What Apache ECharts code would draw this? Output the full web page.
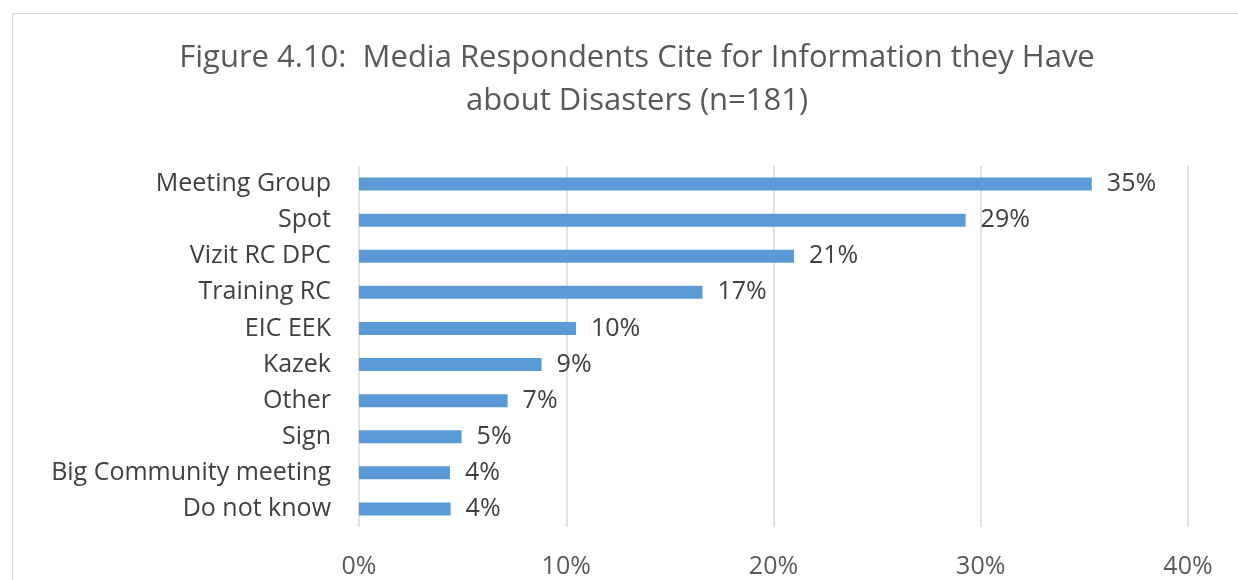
<!DOCTYPE html>
<html>
<head>
<meta charset="utf-8">
<script src="https://cdn.jsdelivr.net/npm/echarts@6/dist/echarts.min.js"></script>
<style>
  html, body { margin: 0; padding: 0; background: #ffffff; }
  #chart { width: 1238px; height: 580px; }
</style>
</head>
<body>
<div id="chart"></div>
<script>
// Sources cited for disaster information, share of media respondents (%)
const categories = [
  'Meeting Group', 'Spot', 'Vizit RC DPC', 'Training RC', 'EIC EEK',
  'Kazek', 'Other', 'Sign', 'Big Community meeting', 'Do not know'
];
const shares = [35.36, 29.27, 20.99, 16.57, 10.47, 8.81, 7.17, 4.95, 4.39, 4.42];
const axisTicks = [0, 10, 20, 30, 40];

const FONT = '"Open Sans", "Noto Sans", sans-serif';

const chart = echarts.init(document.getElementById('chart'), null, { renderer: 'canvas' });

chart.setOption({
  backgroundColor: '#ffffff',
  animation: false,
  title: {
    text: 'Figure 4.10:  Media Respondents Cite for Information they Have\nabout Disasters (n=181)',
    left: 632,
    top: 32,
    textAlign: 'center',
    textStyle: {
      fontFamily: FONT,
      fontWeight: 'normal',
      fontSize: 31,
      lineHeight: 43,
      color: '#595959'
    }
  },
  graphic: [{
    type: 'rect',
    shape: { x: 12.5, y: 13.5, width: 1300, height: 700 },
    style: { fill: 'none', stroke: '#d9d9d9', lineWidth: 1 },
    silent: true
  }],
  grid: { left: 359, right: 50, top: 166, bottom: 53, containLabel: false },
  xAxis: {
    type: 'value',
    min: axisTicks[0],
    max: axisTicks[axisTicks.length - 1],
    interval: 10,
    axisLine: { show: false },
    axisTick: { show: false },
    axisLabel: {
      margin: 27,
      fontFamily: FONT,
      fontSize: 25,
      color: '#595959',
      formatter: v => v + '%'
    },
    splitLine: { show: true, lineStyle: { color: '#d9d9d9', width: 1.5 } }
  },
  yAxis: {
    type: 'category',
    data: categories,
    inverse: true,
    axisLine: { show: false },
    axisTick: { show: false },
    axisLabel: {
      margin: 28,
      fontFamily: FONT,
      fontSize: 25,
      color: '#404040'
    },
    splitLine: { show: false }
  },
  series: [{
    type: 'bar',
    data: shares,
    barWidth: 13,
    itemStyle: { color: '#5b9bd5' },
    label: {
      show: true,
      position: 'right',
      distance: 15,
      fontFamily: FONT,
      fontSize: 25,
      color: '#404040',
      formatter: p => Math.round(p.value) + '%'
    }
  }]
});
</script>
</body>
</html>
